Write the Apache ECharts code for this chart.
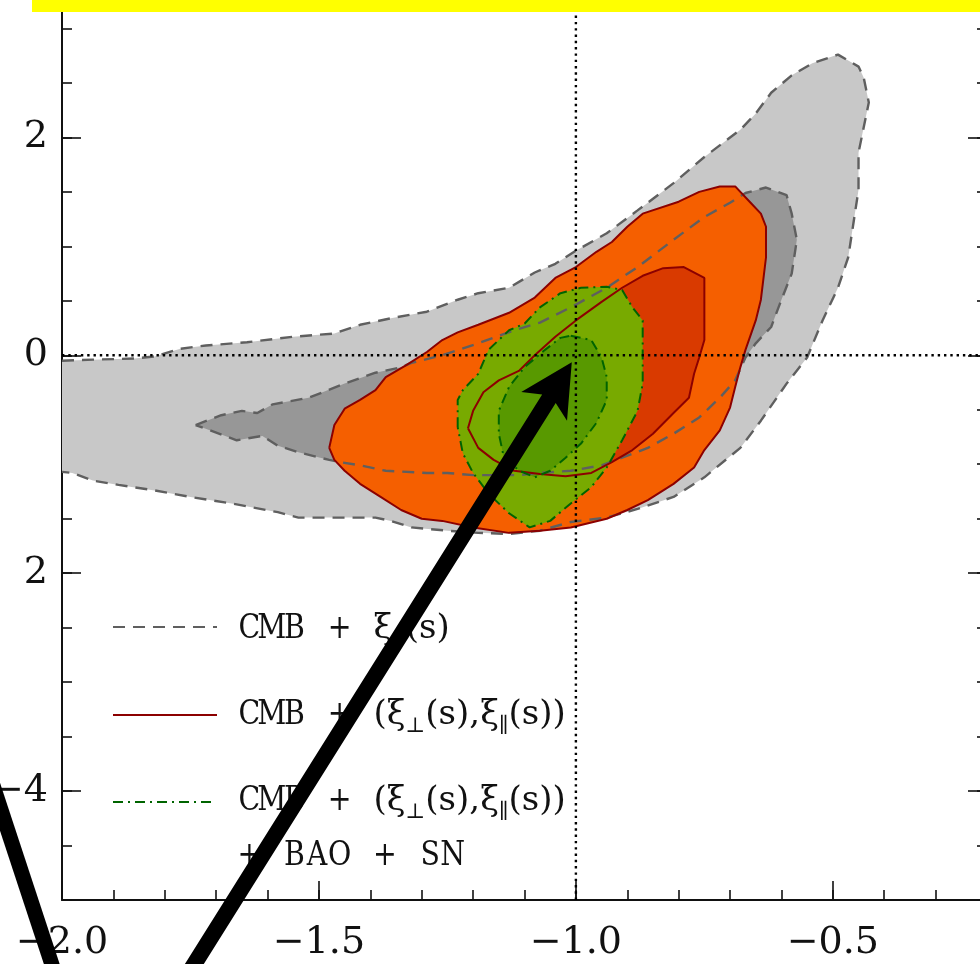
<!DOCTYPE html>
<html>
<head>
<meta charset="utf-8">
<script src="https://cdn.jsdelivr.net/npm/echarts@6/dist/echarts.min.js"></script>
<style>
  html, body { margin: 0; padding: 0; background: #ffffff; }
  #main { width: 980px; height: 964px; }
</style>
</head>
<body>
<div id="main"></div>
<script>
// ---- axis ranges and tick labels ----
const X_MIN = -2.0, X_MAX = -0.2;
const Y_MIN = -5.0, Y_MAX = 3.2;
const xMajorTicks = [-2.0, -1.5, -1.0, -0.5];
const xTickLabels = ['\u22122.0', '\u22121.5', '\u22121.0', '\u22120.5'];
const yMajorTicks = [-4, -2, 0, 2];
const yTickLabels = ['\u22124', '2', '0', '2'];

// ---- confidence contours in the (w0, wa) plane ----
// CMB + xi_0(s): 95% region (open on the left, continues past the axis)
const cmbXi0Outer = [
  [-2.00,-0.05],[-1.94,-0.04],[-1.86,-0.03],[-1.82,-0.01],[-1.77,0.06],[-1.72,0.09],[-1.64,0.12],
  [-1.55,0.17],[-1.47,0.20],[-1.42,0.28],[-1.36,0.34],[-1.29,0.40],[-1.23,0.51],[-1.19,0.57],
  [-1.13,0.62],[-1.08,0.76],[-1.04,0.84],[-1.00,0.96],[-0.94,1.12],[-0.88,1.33],[-0.81,1.58],
  [-0.75,1.82],[-0.68,2.07],[-0.65,2.22],[-0.62,2.41],[-0.58,2.57],[-0.54,2.68],[-0.49,2.76],
  [-0.45,2.65],[-0.44,2.55],[-0.43,2.32],[-0.44,2.09],[-0.45,1.86],[-0.45,1.52],[-0.46,1.21],
  [-0.47,0.90],[-0.49,0.62],[-0.52,0.32],[-0.55,-0.02],[-0.59,-0.26],[-0.64,-0.60],[-0.68,-0.85],
  [-0.75,-1.12],[-0.81,-1.30],[-0.88,-1.41],[-0.94,-1.49],[-1.01,-1.53],[-1.07,-1.61],[-1.13,-1.64],
  [-1.19,-1.63],[-1.25,-1.61],[-1.32,-1.58],[-1.36,-1.52],[-1.39,-1.49],[-1.45,-1.49],[-1.54,-1.49],
  [-1.58,-1.44],[-1.67,-1.36],[-1.75,-1.30],[-1.82,-1.24],[-1.89,-1.19],[-1.94,-1.15],[-1.98,-1.08],
  [-2.00,-1.07]
];
// CMB + xi_0(s): 68% region
const cmbXi0Inner = [
  [-1.74,-0.64],[-1.69,-0.55],[-1.65,-0.51],[-1.62,-0.53],[-1.59,-0.45],[-1.52,-0.39],[-1.45,-0.26],
  [-1.39,-0.16],[-1.34,-0.11],[-1.32,-0.07],[-1.26,0.00],[-1.19,0.11],[-1.12,0.23],[-1.07,0.30],
  [-1.01,0.44],[-0.94,0.62],[-0.88,0.81],[-0.81,1.06],[-0.75,1.27],[-0.70,1.40],[-0.67,1.49],
  [-0.63,1.54],[-0.59,1.47],[-0.58,1.30],[-0.57,1.06],[-0.58,0.75],[-0.60,0.51],[-0.62,0.26],
  [-0.65,0.11],[-0.67,-0.02],[-0.69,-0.23],[-0.72,-0.39],[-0.76,-0.57],[-0.81,-0.72],[-0.86,-0.85],
  [-0.91,-0.94],[-0.95,-1.01],[-1.01,-1.06],[-1.07,-1.08],[-1.11,-1.10],[-1.20,-1.10],[-1.25,-1.08],
  [-1.29,-1.08],[-1.37,-1.06],[-1.42,-1.01],[-1.46,-0.98],[-1.48,-0.96],[-1.54,-0.89],[-1.58,-0.83],
  [-1.61,-0.74],[-1.66,-0.78]
];
// CMB + (xi_perp, xi_par): 95% region
const cmbAnisoOuter = [
  [-1.48,-0.85],[-1.47,-0.64],[-1.45,-0.49],[-1.42,-0.41],[-1.39,-0.32],[-1.37,-0.20],[-1.33,-0.09],
  [-1.29,0.03],[-1.26,0.14],[-1.23,0.21],[-1.19,0.28],[-1.13,0.39],[-1.08,0.53],[-1.04,0.71],
  [-1.00,0.81],[-0.96,0.95],[-0.93,1.04],[-0.90,1.18],[-0.87,1.30],[-0.80,1.41],[-0.76,1.50],
  [-0.72,1.55],[-0.69,1.55],[-0.66,1.40],[-0.64,1.30],[-0.63,1.18],[-0.63,1.06],[-0.63,0.90],
  [-0.64,0.51],[-0.65,0.32],[-0.67,0.05],[-0.68,-0.11],[-0.69,-0.29],[-0.70,-0.48],[-0.72,-0.69],
  [-0.75,-0.87],[-0.77,-1.03],[-0.81,-1.18],[-0.86,-1.33],[-0.90,-1.42],[-0.94,-1.50],[-1.01,-1.58],
  [-1.07,-1.61],[-1.13,-1.63],[-1.20,-1.58],[-1.26,-1.52],[-1.30,-1.50],[-1.34,-1.42],[-1.38,-1.30],
  [-1.42,-1.18],[-1.45,-1.06],[-1.47,-0.96]
];
// CMB + (xi_perp, xi_par): 68% region
const cmbAnisoInner = [
  [-1.21,-0.67],[-1.20,-0.51],[-1.18,-0.34],[-1.15,-0.23],[-1.11,-0.14],[-1.08,0.00],[-1.04,0.17],
  [-1.00,0.32],[-0.95,0.49],[-0.91,0.62],[-0.87,0.73],[-0.83,0.80],[-0.79,0.81],[-0.75,0.71],
  [-0.75,0.52],[-0.75,0.35],[-0.75,0.14],[-0.76,-0.02],[-0.77,-0.17],[-0.78,-0.39],[-0.81,-0.53],
  [-0.85,-0.72],[-0.89,-0.87],[-0.93,-0.98],[-0.97,-1.08],[-1.02,-1.11],[-1.07,-1.09],[-1.12,-1.06],
  [-1.16,-0.96],[-1.19,-0.85]
];
// CMB + (xi_perp, xi_par) + BAO + SN: 95% region
const fullOuter = [
  [-1.23,-0.66],[-1.23,-0.41],[-1.22,-0.32],[-1.19,-0.17],[-1.17,0.05],[-1.13,0.23],[-1.10,0.29],
  [-1.07,0.44],[-1.03,0.57],[-0.99,0.62],[-0.94,0.63],[-0.91,0.60],[-0.89,0.44],[-0.87,0.32],
  [-0.87,0.11],[-0.87,-0.26],[-0.88,-0.51],[-0.91,-0.78],[-0.94,-1.03],[-0.97,-1.21],[-1.01,-1.36],
  [-1.05,-1.52],[-1.09,-1.58],[-1.13,-1.45],[-1.17,-1.27],[-1.20,-1.08],[-1.22,-0.90]
];
// CMB + (xi_perp, xi_par) + BAO + SN: 68% region
const fullInner = [
  [-1.01,0.18],[-0.97,0.14],[-0.95,-0.02],[-0.94,-0.20],[-0.94,-0.41],[-0.96,-0.62],[-0.99,-0.81],
  [-1.02,-0.94],[-1.05,-1.06],[-1.08,-1.12],[-1.11,-1.06],[-1.14,-0.94],[-1.15,-0.72],[-1.15,-0.51],
  [-1.13,-0.29],[-1.10,-0.11],[-1.06,0.05],[-1.03,0.16]
];

// cosmological-constant cross-hair
const lambdaW0 = -1.0, lambdaWa = 0.0;

// annotation arrows (data coordinates; tails run off the frame)
const arrowTail = [-1.788, -5.93];
const arrowTip  = [-1.008, -0.064];
const sideShaft = [[-2.144, -3.81], [-1.996, -5.93]];

// ---- styling ----
const SERIF = '"DejaVu Serif", "Liberation Serif", serif';
const C_GREY_LIGHT = '#c8c8c8', C_GREY_DARK = '#979797';
const C_ORANGE = '#f55f00', C_ORANGE_DARK = '#d93a00';
const C_GREEN = '#78aa00', C_GREEN_DARK = '#589900';
const L_GREY = '#5f5f5f', L_RED = '#8c0000', L_GREEN = '#006400';
const DASH = [12, 8], DASHDOT = [10, 5, 2, 5];

const chart = echarts.init(document.getElementById('main'), null, { renderer: 'canvas' });

function fillSeries(points, color) {
  return {
    type: 'custom', coordinateSystem: 'cartesian2d', xAxisIndex: 0, yAxisIndex: 0,
    silent: true, z: 2, clip: true,
    data: [points[0]],
    renderItem: function (params, api) {
      return {
        type: 'polygon',
        shape: { points: points.map(function (p) { return api.coord(p); }) },
        style: { fill: color }
      };
    }
  };
}
function edgeSeries(points, color, dash, closed, width) {
  const pts = closed ? points.concat([points[0]]) : points;
  return {
    type: 'line', xAxisIndex: 0, yAxisIndex: 0, silent: true, z: 3,
    data: pts, showSymbol: false, symbol: 'none',
    lineStyle: { color: color, width: width, type: dash }
  };
}
function refSeries(points) {
  return {
    type: 'line', xAxisIndex: 0, yAxisIndex: 0, silent: true, z: 4,
    data: points, showSymbol: false, symbol: 'none',
    lineStyle: { color: '#000', width: 2.4, type: [2.4, 3.9] }
  };
}

const tickStyle = { color: '#111', width: 1.6 };
const axisLineStyle = { color: '#111', width: 2 };

const option = {
  animation: false,
  backgroundColor: '#ffffff',
  grid: { left: 62, right: -7, top: 355 - 3.2 * 108.85, bottom: 64, outerBoundsMode: 'none', containLabel: false },
  xAxis: [
    { type: 'value', min: X_MIN, max: X_MAX, interval: 0.1, position: 'bottom',
      axisLine: { show: true, onZero: false, lineStyle: axisLineStyle },
      axisTick: { show: true, inside: true, length: 10, lineStyle: tickStyle },
      axisLabel: { show: false }, splitLine: { show: false } },
    { type: 'value', min: X_MIN, max: X_MAX, position: 'bottom',
      axisLine: { show: false, onZero: false },
      axisTick: { show: true, inside: true, length: 19, lineStyle: tickStyle, customValues: xMajorTicks },
      axisLabel: { show: true, customValues: xMajorTicks, margin: 24, fontFamily: SERIF, fontSize: 38, color: '#111',
        formatter: function (v) {
          const i = xMajorTicks.findIndex(function (t) { return Math.abs(t - v) < 1e-6; });
          return i >= 0 ? xTickLabels[i] : '';
        } },
      splitLine: { show: false } }
  ],
  yAxis: [
    { type: 'value', min: Y_MIN, max: Y_MAX, interval: 0.5, position: 'left',
      axisLine: { show: true, onZero: false, lineStyle: axisLineStyle },
      axisTick: { show: true, inside: true, length: 10, lineStyle: tickStyle },
      axisLabel: { show: false }, splitLine: { show: false } },
    { type: 'value', min: Y_MIN, max: Y_MAX, position: 'left',
      axisLine: { show: false, onZero: false },
      axisTick: { show: true, inside: true, length: 19, lineStyle: tickStyle, customValues: yMajorTicks },
      axisLabel: { show: true, customValues: yMajorTicks, margin: 14, fontFamily: SERIF, fontSize: 38, color: '#111',
        formatter: function (v) {
          const i = yMajorTicks.findIndex(function (t) { return Math.abs(t - v) < 1e-6; });
          return i >= 0 ? yTickLabels[i] : '';
        } },
      splitLine: { show: false } },
    { type: 'value', min: Y_MIN, max: Y_MAX, interval: 0.5, position: 'right',
      axisLine: { show: true, onZero: false, lineStyle: axisLineStyle },
      axisTick: { show: true, inside: true, length: 10, lineStyle: tickStyle },
      axisLabel: { show: false }, splitLine: { show: false } },
    { type: 'value', min: Y_MIN, max: Y_MAX, position: 'right',
      axisLine: { show: false, onZero: false },
      axisTick: { show: true, inside: true, length: 19, lineStyle: tickStyle, customValues: yMajorTicks },
      axisLabel: { show: false }, splitLine: { show: false } }
  ],
  series: [
    fillSeries(cmbXi0Outer, C_GREY_LIGHT),
    fillSeries(cmbXi0Inner, C_GREY_DARK),
    fillSeries(cmbAnisoOuter, C_ORANGE),
    fillSeries(cmbAnisoInner, C_ORANGE_DARK),
    fillSeries(fullOuter, C_GREEN),
    fillSeries(fullInner, C_GREEN_DARK),
    edgeSeries(cmbXi0Outer, L_GREY, DASH, false, 2.4),
    edgeSeries(cmbXi0Inner, L_GREY, DASH, true, 2.4),
    edgeSeries(cmbAnisoOuter, L_RED, 'solid', true, 2),
    edgeSeries(cmbAnisoInner, L_RED, 'solid', true, 2),
    edgeSeries(fullOuter, L_GREEN, DASHDOT, true, 2),
    edgeSeries(fullInner, L_GREEN, DASHDOT, true, 2),
    refSeries([[lambdaW0, Y_MIN], [lambdaW0, Y_MAX]]),
    refSeries([[X_MIN, lambdaWa], [X_MAX, lambdaWa]])
  ]
};
chart.setOption(option);

// ---- legend, arrows and banner ----
// the plain-text part of each legend entry sits in fixed-width cells (slightly condensed),
// the math part follows in ordinary proportional type
const CELL = 22.6;
const PREFIX_SQUEEZE = 0.86;
const prefixRich = {
  c: { width: CELL / PREFIX_SQUEEZE, align: 'center', fontFamily: SERIF, fontSize: 33, lineHeight: 44, fill: '#111' }
};
const mathRich = {
  m: { fontFamily: SERIF, fontSize: 34, lineHeight: 44, fill: '#111' },
  s: { fontFamily: SERIF, fontSize: 21, lineHeight: 29, verticalAlign: 'bottom', fill: '#111' }
};
function mono(str) {
  return str.split('').map(function (ch) { return '{c|' + ch + '}'; }).join('');
}
const LEGEND_X = 238;
const legendRows = [
  { y: 629, prefix: 'CMB + ', math: '{m|\u03be}{s|0}{m|(s)}' },
  { y: 715, prefix: 'CMB + ', math: '{m|(\u03be}{s|\u22a5}{m|(s),\u03be}{s|\u2225}{m|(s))}' },
  { y: 801, prefix: 'CMB + ', math: '{m|(\u03be}{s|\u22a5}{m|(s),\u03be}{s|\u2225}{m|(s))}' },
  { y: 856, prefix: '+ BAO + SN', math: null }
];
const legendKeys = [
  { y: 627, color: L_GREY, dash: DASH, x2: 217, w: 2.2 },
  { y: 715, color: L_RED, dash: null, x2: 217, w: 2 },
  { y: 802, color: L_GREEN, dash: DASHDOT, x2: 213, w: 2 }
];

function toPx(p) { return chart.convertToPixel({ xAxisIndex: 0, yAxisIndex: 0 }, p); }

function arrowPolygon(tail, tip, shaftW, headLen, headHalfW, notchLen) {
  const dx = tip[0] - tail[0], dy = tip[1] - tail[1];
  const L = Math.hypot(dx, dy), ux = dx / L, uy = dy / L, nx = -uy, ny = ux;
  const at = function (a, b) { return [tip[0] - ux * a + nx * b, tip[1] - uy * a + ny * b]; };
  return [
    [tail[0] + nx * shaftW / 2, tail[1] + ny * shaftW / 2],
    at(notchLen, shaftW / 2), at(headLen, headHalfW), tip,
    at(headLen, -headHalfW), at(notchLen, -shaftW / 2),
    [tail[0] - nx * shaftW / 2, tail[1] - ny * shaftW / 2]
  ];
}

const graphics = [];
legendKeys.forEach(function (k) {
  graphics.push({
    type: 'line', silent: true, z: 10,
    shape: { x1: 113, y1: k.y, x2: k.x2, y2: k.y },
    style: { stroke: k.color, lineWidth: k.w, lineDash: k.dash || null }
  });
});
legendRows.forEach(function (r) {
  graphics.push({
    type: 'text', silent: true, z: 10, x: LEGEND_X, y: r.y,
    scaleX: PREFIX_SQUEEZE, scaleY: 1,
    style: { text: mono(r.prefix), rich: prefixRich, align: 'left', verticalAlign: 'middle',
             fontFamily: SERIF, fontSize: 33, fill: '#111' }
  });
  if (r.math) {
    graphics.push({
      type: 'text', silent: true, z: 10, x: LEGEND_X + CELL * r.prefix.length, y: r.y,
      style: { text: r.math, rich: mathRich, align: 'left', verticalAlign: 'middle',
               fontFamily: SERIF, fontSize: 34, fill: '#111' }
    });
  }
});
const tipPx = toPx(arrowTip), tailPx = toPx(arrowTail);
graphics.push({
  type: 'polygon', silent: true, z: 20,
  shape: { points: arrowPolygon(tailPx, tipPx, 16, 52, 27, 43) },
  style: { fill: '#000' }
});
const s0 = toPx(sideShaft[0]), s1 = toPx(sideShaft[1]);
graphics.push({
  type: 'line', silent: true, z: 20,
  shape: { x1: s0[0], y1: s0[1], x2: s1[0], y2: s1[1] },
  style: { stroke: '#000', lineWidth: 15 }
});
graphics.push({
  type: 'rect', silent: true, z: 30,
  shape: { x: 32, y: 0, width: 948, height: 12 },
  style: { fill: '#ffff00' }
});
chart.setOption({ graphic: graphics });
</script>
</body>
</html>
